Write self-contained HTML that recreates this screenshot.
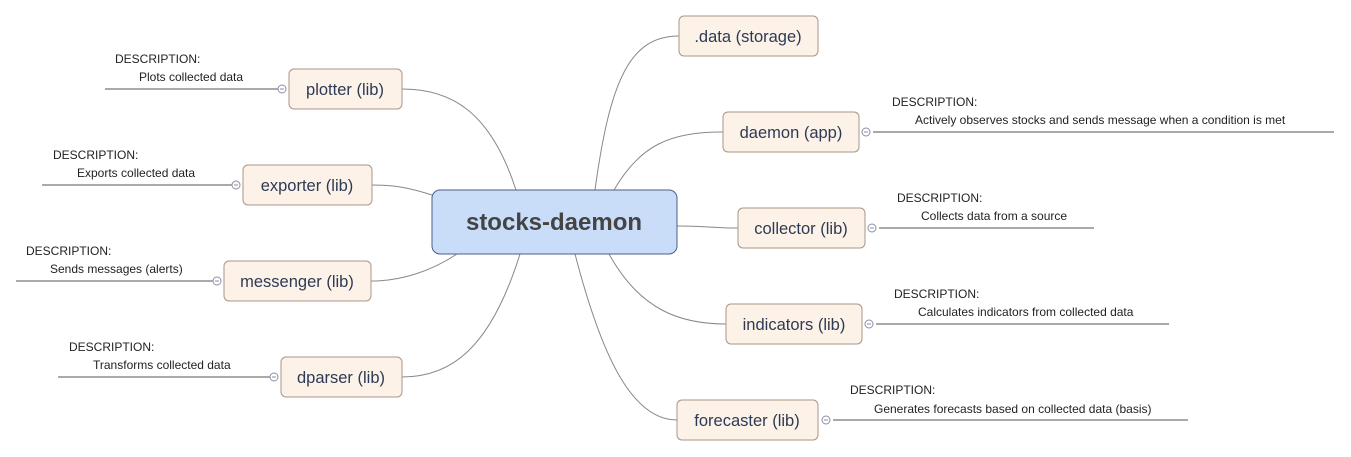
<!DOCTYPE html>
<html><head><style>
body{margin:0;background:#fff;}
svg{display:block;font-family:"Liberation Sans","DejaVu Sans",sans-serif;}
.n{fill:#fdf2e8;stroke:#a8968a;stroke-width:1;}
.t{font-size:16.5px;fill:#2d3a55;text-anchor:middle;}
.d{font-size:12px;fill:#222;}
.c{fill:none;stroke:#888;stroke-width:1;}
.l{stroke:#555;stroke-width:1;}
.o{fill:#fff;stroke:#8a8fa6;stroke-width:1;}
.m{stroke:#8a8fa6;stroke-width:1;}
</style></head><body>
<svg width="1351" height="457" viewBox="0 0 1351 457">
<path class="c" d="M595,190 C610,80 630,36 679,36"/>
<path class="c" d="M614,190 C640,145 670,132 723,132"/>
<path class="c" d="M677,226 C705,226 715,228 738,228"/>
<path class="c" d="M609,254 C640,310 680,324 726,324"/>
<path class="c" d="M575,254 C600,350 630,420 677,420"/>
<path class="c" d="M516,190 C490,110 450,89 402,89"/>
<path class="c" d="M432,195 C410,188 395,185 372,185"/>
<path class="c" d="M457,254 C430,272 400,281 371,281"/>
<path class="c" d="M520,254 C490,350 450,377 402,377"/>
<rect x="432" y="190" width="245" height="64" rx="8" fill="#c9dcf8" stroke="#4a5f8a"/>
<text x="554" y="230" font-size="24" font-weight="bold" fill="#444" text-anchor="middle">stocks-daemon</text>
<rect class="n" x="679" y="16" width="139" height="40" rx="5"/><text class="t" x="748" y="42">.data (storage)</text>
<rect class="n" x="723" y="112" width="136" height="40" rx="5"/><text class="t" x="791" y="138">daemon (app)</text>
<rect class="n" x="738" y="208" width="127" height="40" rx="5"/><text class="t" x="801" y="234">collector (lib)</text>
<rect class="n" x="726" y="304" width="136" height="40" rx="5"/><text class="t" x="794" y="330">indicators (lib)</text>
<rect class="n" x="677" y="400" width="141" height="40" rx="5"/><text class="t" x="747" y="426">forecaster (lib)</text>
<rect class="n" x="289" y="69" width="113" height="40" rx="5"/><text class="t" x="345" y="95">plotter (lib)</text>
<rect class="n" x="243" y="165" width="129" height="40" rx="5"/><text class="t" x="307" y="191">exporter (lib)</text>
<rect class="n" x="224" y="261" width="147" height="40" rx="5"/><text class="t" x="297" y="287">messenger (lib)</text>
<rect class="n" x="281" y="357" width="121" height="40" rx="5"/><text class="t" x="341" y="383">dparser (lib)</text>
<line class="l" x1="873" y1="132" x2="1334" y2="132"/><circle class="o" cx="866" cy="132" r="4"/><line class="m" x1="864" y1="132" x2="868" y2="132"/>
<line class="l" x1="879" y1="228" x2="1094" y2="228"/><circle class="o" cx="872" cy="228" r="4"/><line class="m" x1="870" y1="228" x2="874" y2="228"/>
<line class="l" x1="876" y1="324" x2="1169" y2="324"/><circle class="o" cx="869" cy="324" r="4"/><line class="m" x1="867" y1="324" x2="871" y2="324"/>
<line class="l" x1="833" y1="420" x2="1188" y2="420"/><circle class="o" cx="826" cy="420" r="4"/><line class="m" x1="824" y1="420" x2="828" y2="420"/>
<line class="l" x1="105" y1="89" x2="278" y2="89"/><circle class="o" cx="282" cy="89" r="4"/><line class="m" x1="280" y1="89" x2="284" y2="89"/>
<line class="l" x1="42" y1="185" x2="232" y2="185"/><circle class="o" cx="236" cy="185" r="4"/><line class="m" x1="234" y1="185" x2="238" y2="185"/>
<line class="l" x1="16" y1="281" x2="213" y2="281"/><circle class="o" cx="217" cy="281" r="4"/><line class="m" x1="215" y1="281" x2="219" y2="281"/>
<line class="l" x1="58" y1="377" x2="270" y2="377"/><circle class="o" cx="274" cy="377" r="4"/><line class="m" x1="272" y1="377" x2="276" y2="377"/>
<text class="d" x="892" y="106">DESCRIPTION:</text><text class="d" x="915" y="124">Actively observes stocks and sends message when a condition is met</text>
<text class="d" x="897" y="202">DESCRIPTION:</text><text class="d" x="921" y="220">Collects data from a source</text>
<text class="d" x="894" y="298">DESCRIPTION:</text><text class="d" x="918" y="316">Calculates indicators from collected data</text>
<text class="d" x="850" y="394">DESCRIPTION:</text><text class="d" x="874" y="413">Generates forecasts based on collected data (basis)</text>
<text class="d" x="115" y="63">DESCRIPTION:</text><text class="d" x="139" y="81">Plots collected data</text>
<text class="d" x="53" y="159">DESCRIPTION:</text><text class="d" x="77" y="177">Exports collected data</text>
<text class="d" x="26" y="255">DESCRIPTION:</text><text class="d" x="50" y="273">Sends messages (alerts)</text>
<text class="d" x="69" y="351">DESCRIPTION:</text><text class="d" x="93" y="369">Transforms collected data</text>
</svg>
</body></html>
